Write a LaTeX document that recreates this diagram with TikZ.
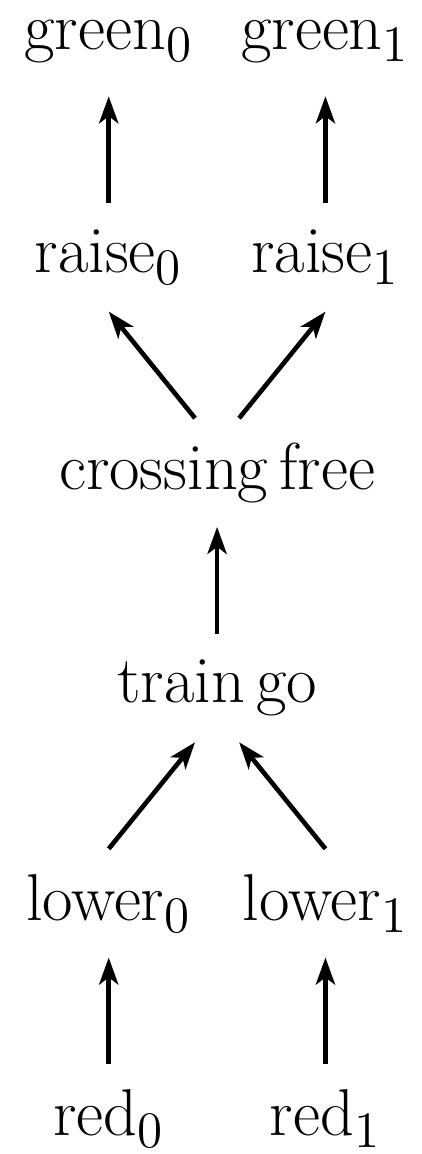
\documentclass[tikz,border=0pt]{standalone}
\usetikzlibrary{arrows.meta}
\DeclareMathSizes{18.66}{18.66}{15}{11}
\begin{document}
\begin{tikzpicture}[
  state/.style={inner sep=0pt, font=\fontsize{18.66}{22}\selectfont},
  edge/.style={
    line width=1.3pt,
    -{Stealth[length=7.6pt,width=5.4pt,inset=2pt]}
  }
]
  \def\dx{30.5pt}
  \def\dy{60.6pt}
  \def\gap{15.3pt}
  \def\off{6.2pt}

  \useasboundingbox (-61.1pt,11.8pt) rectangle (57.4pt,-313pt);

  % Signals
  \node[state] (g0) at (-\dx,0) {green$_0$};
  \node[state] (g1) at (\dx,0) {green$_1$};

  % Gates up
  \node[state] (r0) at (-\dx,-\dy) {raise$_0$};
  \node[state] (r1) at (\dx,-\dy) {raise$_1$};

  % Crossing and train
  \node[state] (cf) at (0,-2*\dy) {crossing\,free};
  \node[state] (tg) at (0,-3*\dy) {train\,go};

  % Gates down
  \node[state] (l0) at (-\dx,-4*\dy) {lower$_0$};
  \node[state] (l1) at (\dx,-4*\dy) {lower$_1$};

  % Signals
  \node[state] (d0) at (-\dx,-5*\dy) {red$_0$};
  \node[state] (d1) at (\dx,-5*\dy) {red$_1$};

  % Edges, top part
  \draw[edge]
    ([yshift=\gap]r0.center) -- ([yshift=-\gap]g0.center);

  \draw[edge]
    ([yshift=\gap]r1.center) -- ([yshift=-\gap]g1.center);

  \draw[edge]
    ([shift={(-\off,\gap)}]cf.center) -- ([yshift=-\gap]r0.center);

  \draw[edge]
    ([shift={(\off,\gap)}]cf.center) -- ([yshift=-\gap]r1.center);

  \draw[edge]
    ([yshift=\gap]tg.center) -- ([yshift=-\gap]cf.center);

  % Edges, bottom part
  \draw[edge]
    ([yshift=\gap]l0.center) -- ([shift={(-\off,-\gap)}]tg.center);

  \draw[edge]
    ([yshift=\gap]l1.center) -- ([shift={(\off,-\gap)}]tg.center);

  \draw[edge]
    ([yshift=\gap]d0.center) -- ([yshift=-\gap]l0.center);

  \draw[edge]
    ([yshift=\gap]d1.center) -- ([yshift=-\gap]l1.center);
\end{tikzpicture}
\end{document}
